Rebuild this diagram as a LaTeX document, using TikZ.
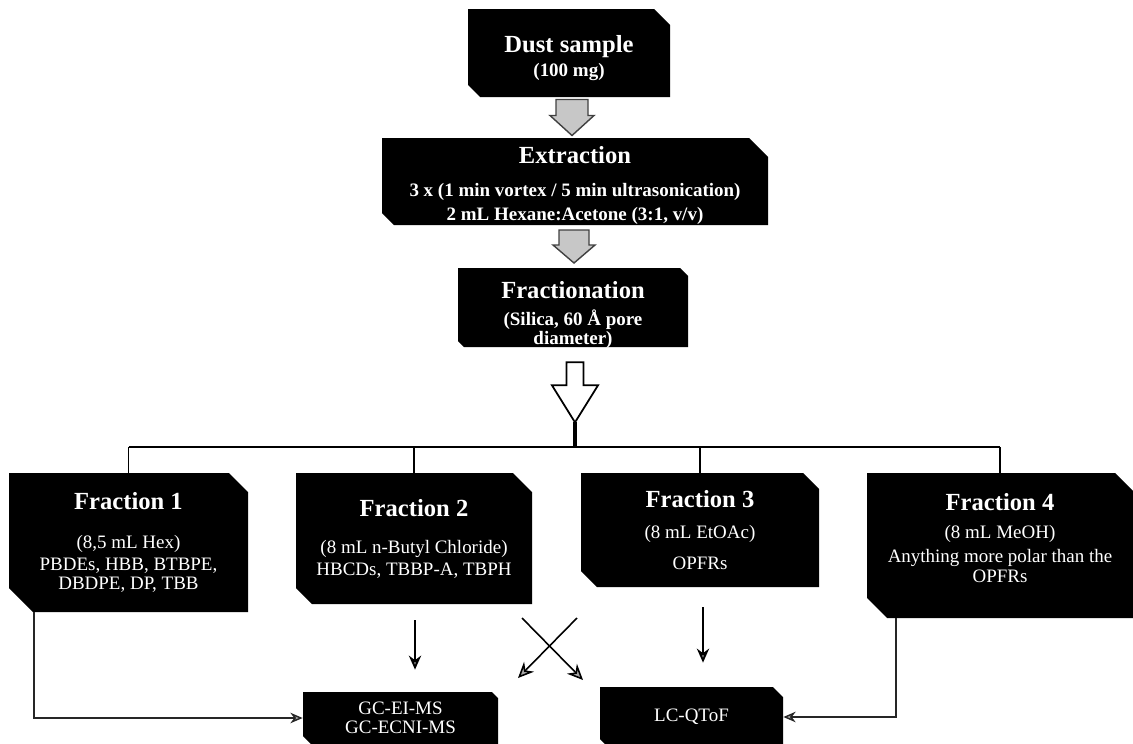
\documentclass[tikz,border=0pt]{standalone}
\usepackage{fontspec}
\setmainfont{Liberation Serif}
\usetikzlibrary{arrows.meta,calc}
\newcommand\boxtitle[1]{{\fontsize{14}{16}\selectfont\bfseries #1}}
\begin{document}
\begin{tikzpicture}[x=0.02cm,y=-0.02cm,
  box/.style 2 args={rectangle, inner sep=0pt, text=white, align=center,
    font=\fontsize{10.8}{11.5}\selectfont,
    path picture={\fill[black] (path picture bounding box.north west)
      -- ($(path picture bounding box.north east)+(-#1,0)$)
      -- ($(path picture bounding box.north east)+(0,#1)$)
      -- (path picture bounding box.south east)
      -- ($(path picture bounding box.south west)+(#2,0)$)
      -- ($(path picture bounding box.south west)+(0,-#2)$) -- cycle;}},
  boxtext/.style={text=white, inner sep=0pt, align=center, font=\fontsize{10.8}{11.5}\selectfont},
  bold/.style={font=\fontsize{10.8}{11.5}\selectfont\bfseries},
  blockarrow/.style={fill=black!22, draw=black!75, line width=0.8pt, line join=miter},
  bigarrow/.style={fill=white, draw=black, line width=1pt, line join=miter},
  bus/.style={line width=1.7pt},
  drop/.style={line width=1.1pt},
  ret/.style={draw=black!85, line width=0.8pt, -{Stealth[length=7pt,width=6pt,fill=black!35]}},
  down/.style={line width=1.1pt, -{Stealth[length=8pt,width=7pt,fill=black!35]}},
  cross/.style={line width=0.9pt, -{Stealth[length=9pt,width=8pt,fill=black!35]}}]
\useasboundingbox (0,0) rectangle (1133,744);

% main boxes
\node[box={16}{12}, minimum width=202*0.02cm, minimum height=88*0.02cm] (dust) at (569,53) {};
\node[boxtext, bold] (dusttext) at (569,58) {\boxtitle{Dust sample}\\[2.5pt](100 mg)};
\node[box={19}{12}, minimum width=386*0.02cm, minimum height=87*0.02cm] (extr) at (575,181.5) {};
\node[boxtext, bold] (extrtext) at (575,185.5)
  {\boxtitle{Extraction}\\[7.5pt]3 x (1 min vortex / 5 min ultrasonication)\\[2.1pt]2 mL Hexane:Acetone (3:1, v/v)};
\node[box={8}{6}, minimum width=230*0.02cm, minimum height=79*0.02cm] (frac) at (573,307.5) {};
\node[boxtext, bold] (fractext) at (573,315)
  {\boxtitle{Fractionation}\\[3.8pt](Silica, 60 Å pore\\[-1pt]diameter)};

% fraction boxes
\node[box={19}{24}, minimum width=239*0.02cm, minimum height=139*0.02cm] (f1) at (128.5,542.5)
  {\boxtitle{Fraction 1}\\[10.5pt](8,5 mL Hex)\\[1pt]PBDEs, HBB, BTBPE,\\[-0.5pt]DBDPE, DP, TBB};
\node[box={19}{16}, minimum width=236*0.02cm, minimum height=131*0.02cm] (f2) at (414,538.5)
  {\boxtitle{Fraction 2}\\[9.5pt](8 mL n-Butyl Chloride)\\[1pt]HBCDs, TBBP-A, TBPH};
\node[box={16}{16}, minimum width=238*0.02cm, minimum height=114*0.02cm] (f3) at (700,530)
  {\boxtitle{Fraction 3}\\[6.1pt](8 mL EtOAc)\\[6.5pt]OPFRs};
\node[box={18}{20}, minimum width=266*0.02cm, minimum height=145*0.02cm] (f4) at (1000,545.5) {};
\node[boxtext] (f4text) at (1000,538)
  {\boxtitle{Fraction 4}\\[4.4pt](8 mL MeOH)\\[2pt]Anything more polar than the\\[0pt]OPFRs};

% instrument boxes
\node[box={6}{8}, minimum width=195*0.02cm, minimum height=52*0.02cm] (gc) at (400.5,718)
  {GC-EI-MS\\[-0.5pt]GC-ECNI-MS};
\node[box={10}{8}, minimum width=183*0.02cm, minimum height=60*0.02cm] (lc) at (691.5,717)
  {LC-QToF};

% grey block arrows
\coordinate (a1) at ($(dust.south)!0.5!(extr.north)$);
\coordinate (a2) at ($(extr.south)!0.5!(frac.north)$);
\draw[blockarrow, shift={(a1)}] (-16,-18) -- (16,-18) -- (16,-2) -- (22,-2) -- (0,18) -- (-22,-2) -- (-16,-2) -- cycle;
\draw[blockarrow, shift={(a2)}] (-15,-16.5) -- (15,-16.5) -- (15,-1.5) -- (21,-1.5) -- (0,16.5) -- (-21,-1.5) -- (-15,-1.5) -- cycle;

% big white arrow and bus
\coordinate (bigtip) at ($(frac.south)+(2,75)$);
\coordinate (bus) at (576,447);
\draw[bigarrow, shift={(frac.south)}] (-6.5,15) -- (10.5,15) -- (10.5,38) -- (25,38) -- (2,75) -- (-21,38) -- (-6.5,38) -- cycle;
\draw[line width=2.8pt] (bigtip) -- (bigtip |- bus);
\draw[bus] (f1.north |- bus) -- (f4.north |- bus);
\foreach \f in {f1,f2,f3,f4} \draw[drop] (\f.north |- bus) -- (\f.north);

% lower connectors
\draw[ret] ($(f1.south)+(-94.5,0)$) |- (gc.west);
\draw[ret] ($(f4.south)+(-104,0)$) |- (lc.east);
\draw[down] ($(f2.south)+(1,16)$) -- ($(gc.north -| f2.south)+(1,-22)$);
\draw[down] ($(f3.south)+(3,20)$) -- ($(lc.north -| f3.south)+(3,-24)$);
\coordinate (xa) at (522,618);
\coordinate (xb) at (583,680);
\coordinate (xc) at (577,618);
\coordinate (xd) at (518,678);
\draw[cross] (xa) -- (xb);
\draw[cross] (xc) -- (xd);
\end{tikzpicture}
\end{document}
